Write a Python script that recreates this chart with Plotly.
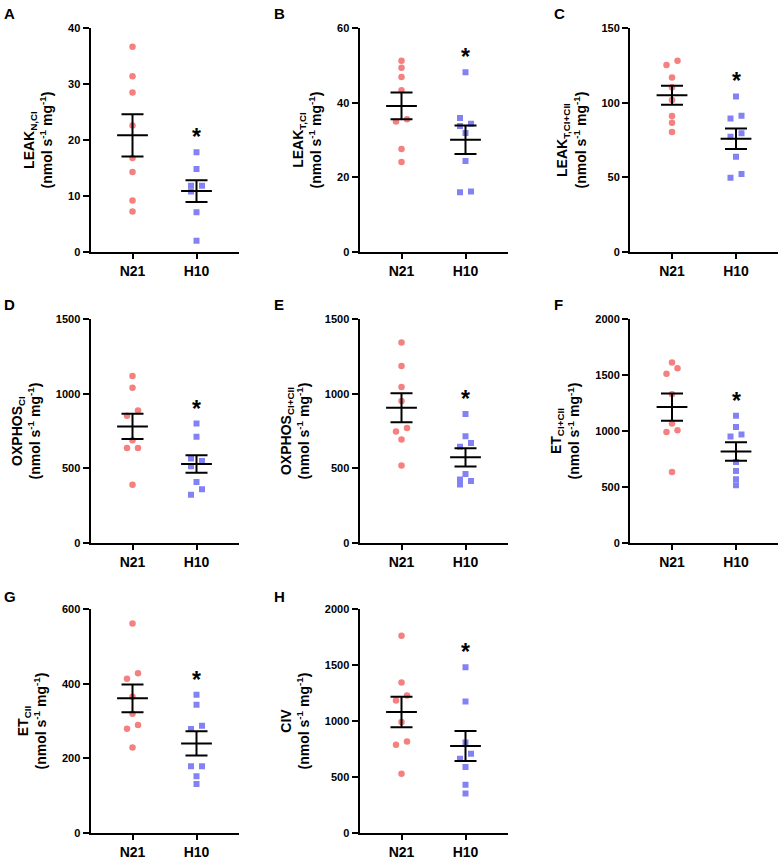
import plotly.graph_objects as go
import numpy as np

# groups and panels
groups = ['N21', 'H10']
letters = ['A', 'B', 'C', 'D', 'E', 'F', 'G', 'H']
y_titles = ['LEAK<sub>N,CI</sub>', 'LEAK<sub>T,CI</sub>', 'LEAK<sub>T,CI+CII</sub>',
            'OXPHOS<sub>CI</sub>', 'OXPHOS<sub>CI+CII</sub>', 'ET<sub>CI+CII</sub>',
            'ET<sub>CII</sub>', 'CIV']
y_max = [40, 60, 150, 1500, 1500, 2000, 600, 2000]
y_dtick = [10, 20, 50, 500, 500, 500, 200, 500]

# values (nmol s-1 mg-1)
leak_nci_n21 = [36.7, 31.4, 28.5, 22.6, 16.8, 14.3, 9.2, 7.2]
leak_nci_h10 = [17.8, 14.8, 11.8, 11.8, 10.8, 7.1, 2.0]
leak_tci_n21 = [51.3, 49.4, 46.9, 43.4, 35.6, 35.0, 27.6, 24.1]
leak_tci_h10 = [48.2, 35.9, 34.4, 33.8, 31.9, 24.4, 16.2, 16.0]
leak_tcii_n21 = [128.3, 125.4, 116.9, 110.4, 101.9, 91.1, 86.6, 80.4]
leak_tcii_h10 = [104.3, 91.3, 89.5, 79.5, 77.2, 63.8, 52.2, 49.7]
oxphos_ci_n21 = [1119, 1040, 888, 852, 688, 637, 637, 390]
oxphos_ci_h10 = [800, 711, 565, 549, 513, 408, 359, 323]
oxphos_cii_n21 = [1345, 1186, 1045, 951, 771, 747, 693, 518]
oxphos_cii_h10 = [865, 715, 670, 645, 462, 424, 415, 392]
et_cii_n21 = [1614, 1561, 1512, 1330, 1067, 1007, 992, 633]
et_cii_h10 = [1136, 1037, 969, 951, 723, 642, 568, 514]
et_ii_n21 = [562, 428.6, 413.6, 365.4, 319.9, 289.3, 279.6, 228.7]
et_ii_h10 = [370.5, 343.7, 287.5, 278.6, 178.4, 178.4, 151.6, 131.2]
civ_n21 = [1764, 1345, 1229, 1184, 991, 818, 788, 529]
civ_h10 = [1482, 1175, 809, 708, 663, 589, 431, 351]

n21_sets = [leak_nci_n21, leak_tci_n21, leak_tcii_n21, oxphos_ci_n21,
            oxphos_cii_n21, et_cii_n21, et_ii_n21, civ_n21]
h10_sets = [leak_nci_h10, leak_tci_h10, leak_tcii_h10, oxphos_ci_h10,
            oxphos_cii_h10, et_cii_h10, et_ii_h10, civ_h10]

W, H = 782, 857
col_left = [90.5, 359.5, 630]
row_top = [28.3, 319.3, 609.3]
plot_w, plot_h = 148, 223.5
unit_px = 64.0            # pixels between the two groups
x_lo = -42 / unit_px
x_hi = (plot_w - 42) / unit_px

RED = '#F48080'
BLUE = '#8282F5'


def spread(vals, px_per_unit, gap_px=5.6, off_px=5.5):
    # scatter-dot-plot style: points closer than a marker get pushed aside
    order = sorted(range(len(vals)), key=lambda i: -vals[i])
    clusters, cur = [], [order[0]]
    for a, b in zip(order[:-1], order[1:]):
        if (vals[a] - vals[b]) * px_per_unit < gap_px:
            cur.append(b)
        else:
            clusters.append(cur)
            cur = [b]
    clusters.append(cur)
    offs = [0.0] * len(vals)
    for c in clusters:
        k = len(c)
        if k == 1:
            continue
        for i, idx in enumerate(c):
            sign = 1 if (i % 2 == 0) == (k % 2 == 0) else -1
            offs[idx] = sign * off_px / unit_px
    return offs


fig = go.Figure()
annotations = []

for p in range(8):
    r, c = divmod(p, 3)
    sfx = '' if p == 0 else str(p + 1)
    xa, ya = 'x' + sfx, 'y' + sfx
    ppu = plot_h / y_max[p]

    for g, (vals, color, sym, size) in enumerate([
            (n21_sets[p], RED, 'circle', 6.5),
            (h10_sets[p], BLUE, 'square', 6)]):
        offs = spread(vals, ppu)
        fig.add_trace(go.Scatter(
            x=[g + o for o in offs], y=vals, mode='markers',
            marker=dict(symbol=sym, size=size, color=color, line=dict(width=0)),
            xaxis=xa, yaxis=ya, showlegend=False, hoverinfo='y'))

    for g, vals in enumerate([n21_sets[p], h10_sets[p]]):
        arr = np.array(vals, dtype=float)
        mean = arr.mean()
        sem = arr.std(ddof=1) / np.sqrt(len(arr))
        fig.add_trace(go.Scatter(
            x=[g], y=[mean], mode='markers',
            marker=dict(symbol='line-ew', size=22, color='black',
                        line=dict(width=2, color='black')),
            error_y=dict(type='data', array=[sem], width=11, thickness=2, color='black'),
            xaxis=xa, yaxis=ya, showlegend=False, hoverinfo='skip'))

    x0 = col_left[c] / W
    x1 = (col_left[c] + plot_w) / W
    y1 = 1 - row_top[r] / H
    y0 = 1 - (row_top[r] + plot_h) / H

    fig.layout['xaxis' + sfx] = dict(
        domain=[x0, x1], anchor=ya, range=[x_lo, x_hi], automargin=False,
        tickvals=[0, 1], ticktext=groups, ticks='outside', ticklen=5, tickwidth=2,
        tickcolor='black', showline=True, linewidth=2, linecolor='black',
        showgrid=False, zeroline=False,
        tickfont=dict(family='Arial, Liberation Sans', size=14, color='black', weight='bold'))
    fig.layout['yaxis' + sfx] = dict(
        domain=[y0, y1], anchor=xa, range=[0, y_max[p]], dtick=y_dtick[p], tick0=0,
        automargin=False,
        ticks='outside', ticklen=6, tickwidth=2, tickcolor='black',
        showline=True, linewidth=2, linecolor='black', showgrid=False, zeroline=False,
        tickfont=dict(family='Arial, Liberation Sans', size=11, color='black', weight='bold'),
        title=dict(text=y_titles[p] + '<br>(nmol s<sup>-1</sup> mg<sup>-1</sup>)',
                   standoff=12,
                   font=dict(family='Arial, Liberation Sans', size=14, color='black',
                             weight='bold')))

    # significance mark above H10
    annotations.append(dict(
        x=1, y=max(h10_sets[p]), xref=xa, yref=ya, text='*', showarrow=False,
        yanchor='bottom', yshift=0,
        font=dict(family='Arial, Liberation Sans', size=23, color='black', weight='bold')))

    # panel letter
    annotations.append(dict(
        x=[2, 272, 552][c] / W, y=1 - [3, 294, 586][r] / H, xref='paper', yref='paper',
        text=letters[p], showarrow=False, xanchor='left', yanchor='top',
        font=dict(family='Arial, Liberation Sans', size=15, color='black', weight='bold')))

fig.update_layout(
    width=W, height=H, margin=dict(l=0, r=0, t=0, b=0),
    plot_bgcolor='white', paper_bgcolor='white',
    annotations=annotations)

fig.write_html("out.html", config={'displayModeBar': False},
               post_script="document.body.style.margin='0px';")
